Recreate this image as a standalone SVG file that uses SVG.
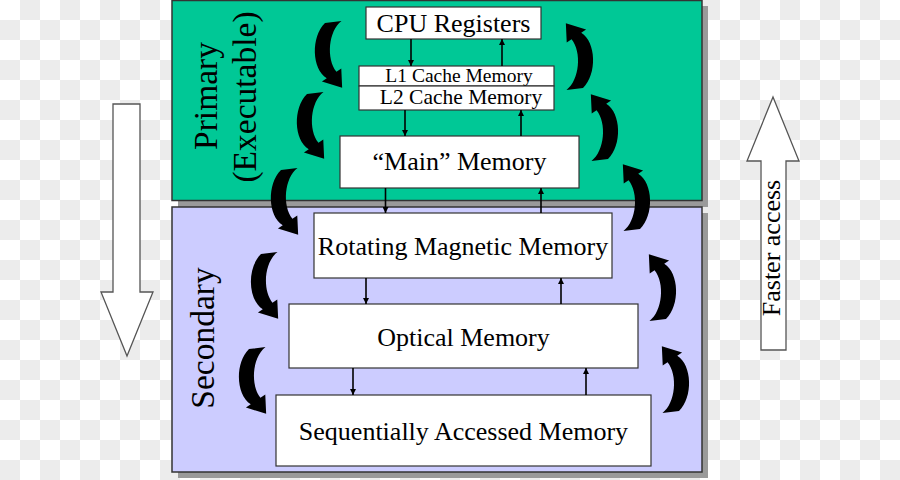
<svg xmlns="http://www.w3.org/2000/svg" xmlns:xlink="http://www.w3.org/1999/xlink" width="900" height="480" viewBox="0 0 900 480">
  <defs>
    <pattern id="checker" x="0" y="0" width="40" height="40" patternUnits="userSpaceOnUse">
      <rect width="40" height="40" fill="#ffffff"/>
      <rect x="20" y="0" width="20" height="20" fill="#ececec"/>
      <rect x="0" y="20" width="20" height="20" fill="#ececec"/>
    </pattern>
    <marker id="ah" viewBox="0 0 10 10" refX="10" refY="5" markerWidth="6" markerHeight="6" markerUnits="userSpaceOnUse" orient="auto">
      <path d="M0,0 L10,5 L0,10 Z" fill="#000"/>
    </marker>
    <path id="curl" d="M25,0 C13,10 11,38 20.4,50.7 L24.8,47.4 L25.6,66.8 L7.2,60.6 L11.6,57.3 C-2,48 -3,16 10,2 Z" fill="#000"/>
    <style>
      .region { stroke: #333; stroke-width: 1.5; }
      .shadow { fill: #9a9a9a; }
      .box { fill: #fff; stroke: #333; stroke-width: 1.2; }
      .lbl { font-family: "Liberation Serif", "Times New Roman", serif; fill: #000; text-anchor: middle; }
      .big { font-family: "Liberation Serif", "Times New Roman", serif; fill: #000; text-anchor: middle; font-size: 33.5px; }
      .link { stroke: #000; stroke-width: 1.6; fill: none; marker-end: url(#ah); }
      .hollow { fill: #fff; stroke: #555; stroke-width: 1.3; }
    </style>
  </defs>

  <rect width="900" height="480" fill="url(#checker)"/>

  <g id="primary-region">
    <rect class="shadow" x="178" y="6" width="530" height="201"/>
    <rect class="region" x="172" y="0.5" width="530" height="200" fill="#00c896"/>
    <text class="big" transform="translate(217,96) rotate(-90)">Primary</text>
    <text class="big" transform="translate(256,97) rotate(-90)">(Executable)</text>
  </g>

  <g id="secondary-region">
    <rect class="shadow" x="178" y="213" width="530" height="265"/>
    <rect class="region" x="172" y="207" width="530" height="265" fill="#ccccff"/>
    <text class="big" transform="translate(214,338) rotate(-90)">Secondary</text>
  </g>

  <g id="slower-arrow">
    <polygon class="hollow" points="113,104 140,104 140,292 153,292 127,356 101,292 113,292"/>
  </g>

  <g id="faster-arrow">
    <polygon class="hollow" points="773,97 799,161 786,161 786,350 761,350 761,161 747,161"/>
    <text class="lbl" font-size="26" transform="translate(780,248) rotate(-90)">Faster access</text>
  </g>

  <g id="cpu-registers">
    <rect class="box" x="366" y="7" width="175" height="32"/>
    <text class="lbl" font-size="26" x="453.5" y="31.5">CPU Registers</text>
  </g>

  <g id="l1-cache">
    <rect class="box" x="359" y="66" width="195" height="20"/>
    <text class="lbl" font-size="19.5" x="459" y="81.5">L1 Cache Memory</text>
  </g>

  <g id="l2-cache">
    <rect class="box" x="359" y="86" width="195" height="24"/>
    <text class="lbl" font-size="21.5" x="461" y="103.5">L2 Cache Memory</text>
  </g>

  <g id="main-memory">
    <rect class="box" x="340" y="136" width="239" height="52"/>
    <text class="lbl" font-size="26" x="459.5" y="170">“Main” Memory</text>
  </g>

  <g id="rotating-magnetic">
    <rect class="box" x="314" y="213" width="298" height="65"/>
    <text class="lbl" font-size="26" x="463" y="255">Rotating Magnetic Memory</text>
  </g>

  <g id="optical">
    <rect class="box" x="289" y="304" width="349" height="64"/>
    <text class="lbl" font-size="26" x="463.5" y="345.5">Optical Memory</text>
  </g>

  <g id="sequential">
    <rect class="box" x="276" y="395" width="375" height="71"/>
    <text class="lbl" font-size="26" x="463.5" y="440">Sequentially Accessed Memory</text>
  </g>

  <g id="connectors">
    <line class="link" x1="411" y1="39" x2="411" y2="66"/>
    <line class="link" x1="502" y1="66" x2="502" y2="39"/>
    <line class="link" x1="405" y1="110" x2="405" y2="136"/>
    <line class="link" x1="521" y1="136" x2="521" y2="110"/>
    <line class="link" x1="385.5" y1="188" x2="385.5" y2="213"/>
    <line class="link" x1="541" y1="213" x2="541" y2="188"/>
    <line class="link" x1="366" y1="278" x2="366" y2="304"/>
    <line class="link" x1="561" y1="304" x2="561" y2="278"/>
    <line class="link" x1="353" y1="368" x2="353" y2="395"/>
    <line class="link" x1="586" y1="395" x2="586" y2="368"/>

    <use xlink:href="#curl" transform="translate(314,21) scale(1.1,1)"/>
    <use xlink:href="#curl" transform="translate(296,92) scale(1.1,1)"/>
    <use xlink:href="#curl" transform="translate(270,168) scale(1.1,1)"/>
    <use xlink:href="#curl" transform="translate(250,252) scale(1.1,1)"/>
    <use xlink:href="#curl" transform="translate(238,347) scale(1.1,1)"/>

    <use xlink:href="#curl" transform="translate(594,90) rotate(180) scale(1.1,1)"/>
    <use xlink:href="#curl" transform="translate(619,161) rotate(180) scale(1.1,1)"/>
    <use xlink:href="#curl" transform="translate(651,231) rotate(180) scale(1.1,1)"/>
    <use xlink:href="#curl" transform="translate(677,321) rotate(180) scale(1.1,1)"/>
    <use xlink:href="#curl" transform="translate(690,413) rotate(180) scale(1.1,1)"/>
  </g>
</svg>
